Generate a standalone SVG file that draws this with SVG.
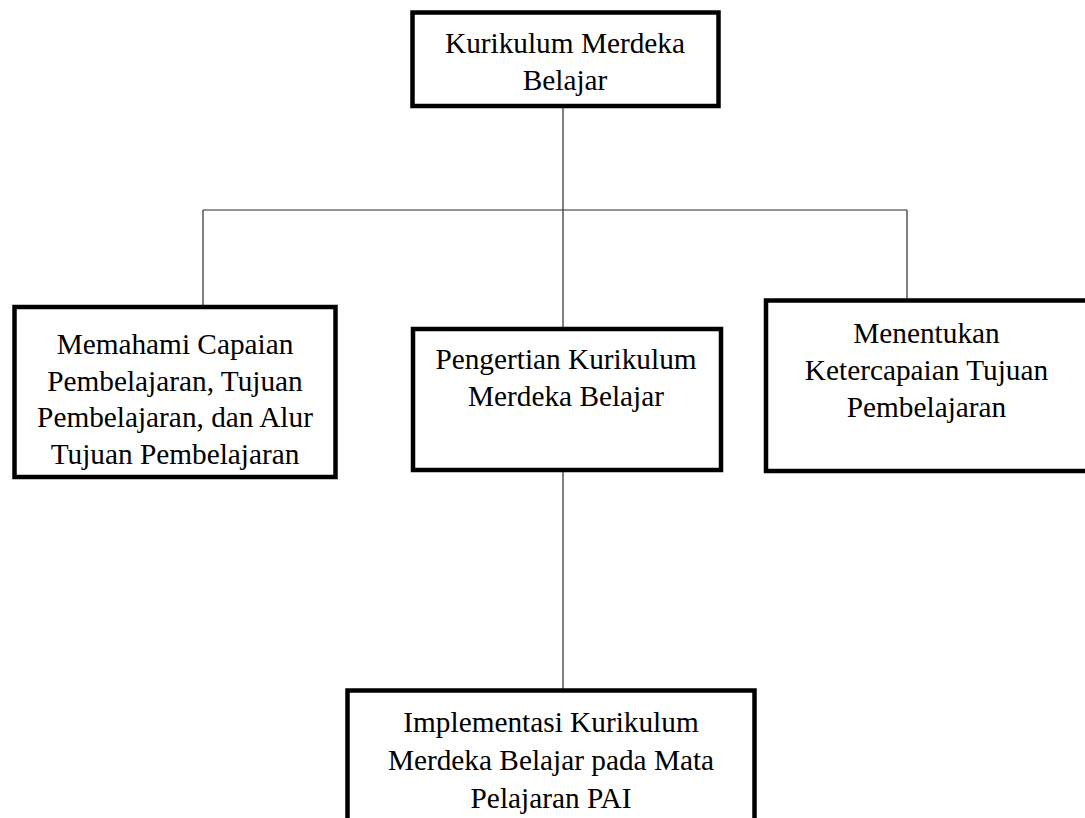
<svg xmlns="http://www.w3.org/2000/svg" width="1085" height="818" viewBox="0 0 1085 818">
  <style>
    .box { fill: #ffffff; stroke: #000000; stroke-width: 4.5; }
    .conn { stroke: #2a2a2a; stroke-width: 1.2; fill: none; }
    .lbl { font-family: "Liberation Serif", "Times New Roman", serif; font-size: 29.3px; fill: #000000; text-anchor: middle; }
  </style>
  <rect x="0" y="0" width="1085" height="818" fill="#ffffff"/>
  <g id="connectors">
    <line class="conn" x1="563" y1="106" x2="563" y2="329"/>
    <line class="conn" x1="203" y1="210" x2="907" y2="210"/>
    <line class="conn" x1="203" y1="210" x2="203" y2="307"/>
    <line class="conn" x1="907" y1="210" x2="907" y2="300"/>
    <line class="conn" x1="563" y1="470" x2="563" y2="690"/>
  </g>
  <g id="node-root">
    <rect class="box" x="412.5" y="12.5" width="306" height="93.5"/>
    <text class="lbl" x="565" y="53">Kurikulum Merdeka</text>
    <text class="lbl" x="565" y="90">Belajar</text>
  </g>
  <g id="node-capaian">
    <rect class="box" x="14.5" y="307" width="321" height="170"/>
    <text class="lbl" x="175" y="354">Memahami Capaian</text>
    <text class="lbl" x="175" y="390.5">Pembelajaran, Tujuan</text>
    <text class="lbl" x="175" y="427">Pembelajaran, dan Alur</text>
    <text class="lbl" x="175" y="463.5">Tujuan Pembelajaran</text>
  </g>
  <g id="node-pengertian">
    <rect class="box" x="413" y="329" width="308" height="141"/>
    <text class="lbl" x="566" y="369">Pengertian Kurikulum</text>
    <text class="lbl" x="566" y="406">Merdeka Belajar</text>
  </g>
  <g id="node-ketercapaian">
    <rect class="box" x="766" y="300.5" width="322" height="170.5"/>
    <text class="lbl" x="926.5" y="343">Menentukan</text>
    <text class="lbl" x="926.5" y="380">Ketercapaian Tujuan</text>
    <text class="lbl" x="926.5" y="417">Pembelajaran</text>
  </g>
  <g id="node-implementasi">
    <rect class="box" x="347.5" y="690.5" width="407" height="200"/>
    <text class="lbl" x="551" y="732">Implementasi Kurikulum</text>
    <text class="lbl" x="551" y="770">Merdeka Belajar pada Mata</text>
    <text class="lbl" x="551" y="808">Pelajaran PAI</text>
  </g>
</svg>
